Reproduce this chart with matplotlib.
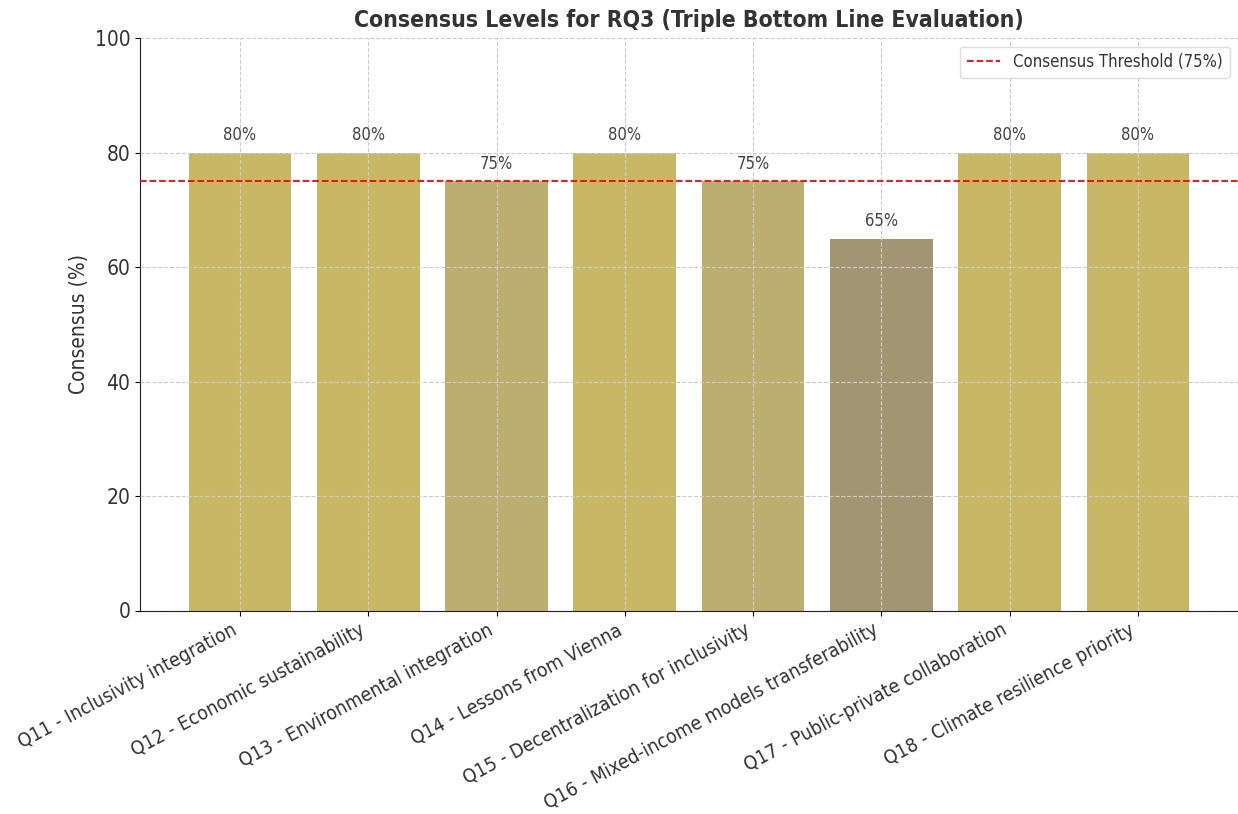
import matplotlib
matplotlib.use("Agg")
import matplotlib.pyplot as plt
from matplotlib import font_manager

questions = [
    "Q11 - Inclusivity integration",
    "Q12 - Economic sustainability",
    "Q13 - Environmental integration",
    "Q14 - Lessons from Vienna",
    "Q15 - Decentralization for inclusivity",
    "Q16 - Mixed-income models transferability",
    "Q17 - Public-private collaboration",
    "Q18 - Climate resilience priority",
]
consensus = [80, 80, 75, 80, 75, 65, 80, 80]
threshold = 75
bar_colors = {80: "#c8b866", 75: "#bcae6e", 65: "#a29672"}

# Prefer a condensed sans face when one is installed
condensed = [f for f in font_manager.fontManager.ttflist
             if f.name == "DejaVu Sans" and "ondensed" in f.fname]
if condensed:
    plt.rcParams["font.family"] = ["DejaVu Sans"]
    plt.rcParams["font.stretch"] = "condensed"
    tick_size = 14
else:
    plt.rcParams["font.family"] = ["Open Sans", "DejaVu Sans"]
    tick_size = 13
text_color = "#333333"

fig = plt.figure(figsize=(12.38, 8.14), dpi=100)
ax = fig.add_axes([0.113, 0.25, 0.887, 0.703])

x = list(range(len(questions)))
ax.bar(x, consensus, width=0.8, color=[bar_colors[v] for v in consensus], zorder=1)
ax.axhline(threshold, color="red", linestyle="--", linewidth=1.3,
           label=f"Consensus Threshold ({threshold}%)", zorder=3)

for xi, v in zip(x, consensus):
    ax.text(xi, v + 1.5, f"{v}%", ha="center", va="bottom", fontsize=12, color="#444444")

ax.set_xlim(-0.78, 7.78)
ax.set_ylim(0, 100)
ax.set_xticks(x)
ax.set_xticklabels(questions, rotation=28, ha="right",
                   fontsize=tick_size, color=text_color)
ax.tick_params(axis="y", labelsize=15, labelcolor=text_color)
ax.set_ylabel("Consensus (%)", fontsize=15, color=text_color)
ax.set_title("Consensus Levels for RQ3 (Triple Bottom Line Evaluation)",
             fontsize=16.5, fontweight="bold", color=text_color, pad=8)

ax.grid(True, linestyle="--", color="#cccccc", linewidth=0.8, zorder=2)
ax.set_axisbelow(False)
for side in ("top", "right"):
    ax.spines[side].set_visible(False)
ax.spines["left"].set_color("#222222")
ax.spines["bottom"].set_color("#222222")

ax.legend(loc="upper right", fontsize=12, labelcolor=text_color, framealpha=1,
          edgecolor="#dddddd")

fig.savefig("out.png", dpi=100)
